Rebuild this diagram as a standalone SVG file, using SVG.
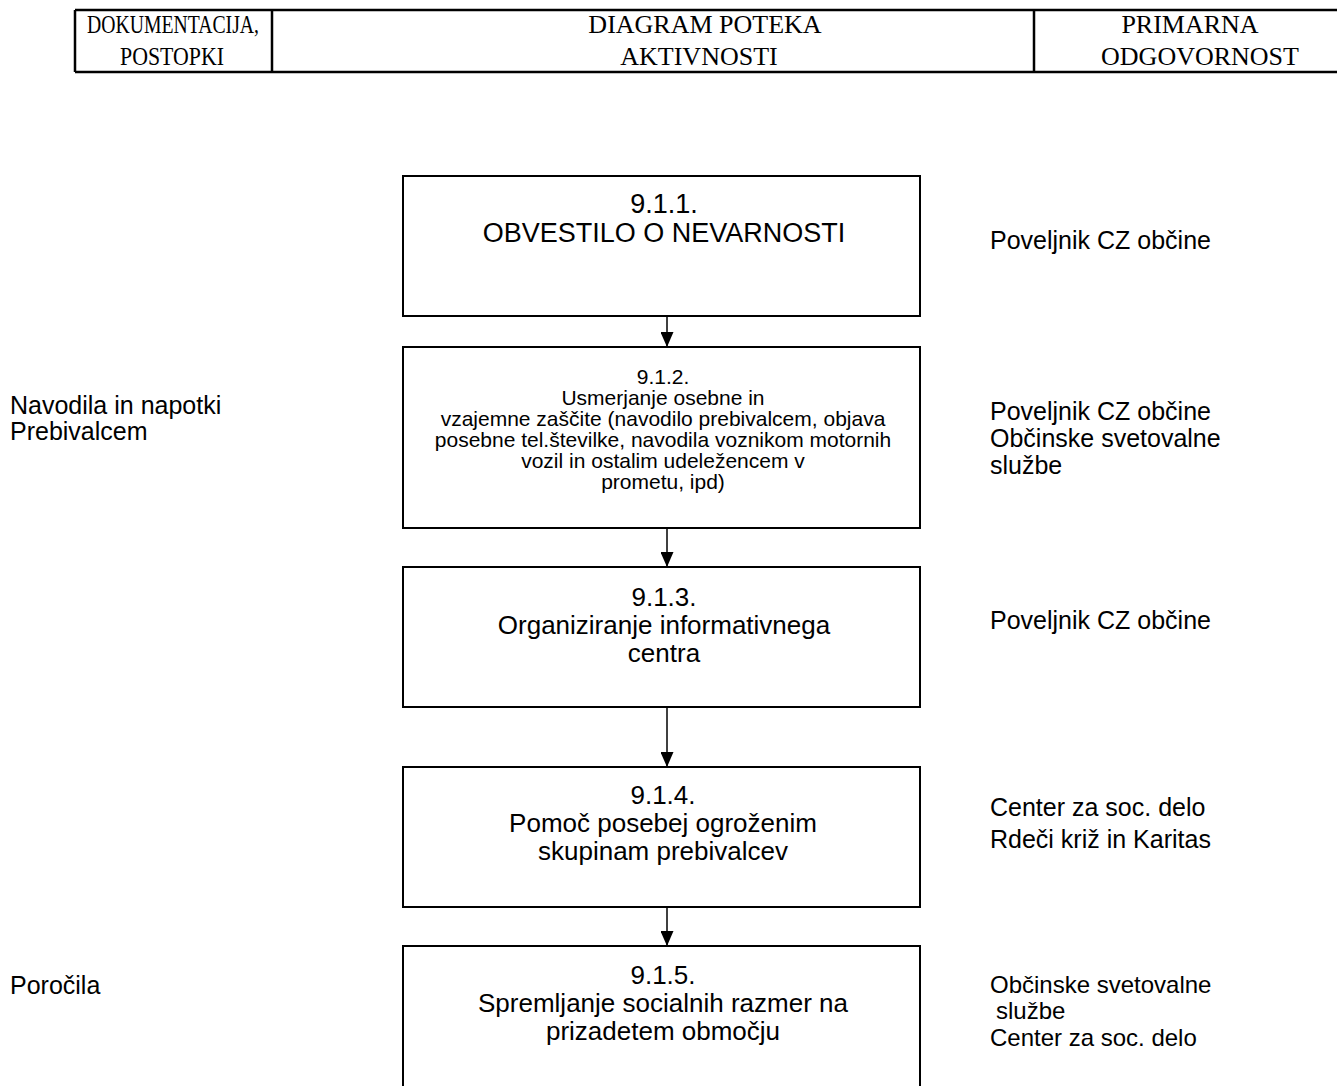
<svg xmlns="http://www.w3.org/2000/svg" width="1337" height="1086" viewBox="0 0 1337 1086">
<style>
.hdr{font-family:"Liberation Serif","Times New Roman",serif;font-size:26px;fill:#000;text-anchor:middle}
.box{fill:#fff;stroke:#000;stroke-width:2}
.bt{font-family:"Liberation Sans",Arial,sans-serif;font-size:26px;fill:#000;text-anchor:middle}
.bs{font-family:"Liberation Sans",Arial,sans-serif;font-size:21px;fill:#000;text-anchor:middle}
.lbl{font-family:"Liberation Sans",Arial,sans-serif;font-size:25px;fill:#000}
.lbs{font-family:"Liberation Sans",Arial,sans-serif;font-size:24px;fill:#000}
.conn{stroke:#000;stroke-width:1.5;fill:none}
</style>
<defs>
<marker id="ah" markerUnits="userSpaceOnUse" markerWidth="15" markerHeight="13" refX="15" refY="6.5" orient="auto" viewBox="0 0 15 13">
<path d="M0,0 L15,6.5 L0,13 Z" fill="#000"/>
</marker>
</defs>
<rect width="1337" height="1086" fill="#fff"/>
<g id="header">
<path d="M75,10 H1337 M75,72 H1337 M75,10 V72 M272,10 V72 M1034,10 V72" stroke="#000" stroke-width="2.5" fill="none"/>
<text class="hdr" x="173" y="33" textLength="172" lengthAdjust="spacingAndGlyphs">DOKUMENTACIJA,</text>
<text class="hdr" x="172" y="65" textLength="104" lengthAdjust="spacingAndGlyphs">POSTOPKI</text>
<text class="hdr" x="705" y="33">DIAGRAM POTEKA</text>
<text class="hdr" x="699" y="65">AKTIVNOSTI</text>
<text class="hdr" x="1190" y="33">PRIMARNA</text>
<text class="hdr" x="1200" y="65">ODGOVORNOST</text>
</g>
<g id="connectors">
<line class="conn" x1="667" y1="316" x2="667" y2="347" marker-end="url(#ah)"/>
<line class="conn" x1="667" y1="528" x2="667" y2="567" marker-end="url(#ah)"/>
<line class="conn" x1="667" y1="707" x2="667" y2="767" marker-end="url(#ah)"/>
<line class="conn" x1="667" y1="907" x2="667" y2="946" marker-end="url(#ah)"/>
</g>
<g id="n911">
<rect class="box" x="403" y="176" width="517" height="140"/>
<text class="bt" x="664" y="213" style="font-size:27px">9.1.1.</text>
<text class="bt" x="664" y="242" style="font-size:27px">OBVESTILO O NEVARNOSTI</text>
</g>
<g id="n912">
<rect class="box" x="403" y="347" width="517" height="181"/>
<text class="bs" x="663" y="384">9.1.2.</text>
<text class="bs" x="663" y="405">Usmerjanje osebne in</text>
<text class="bs" x="663" y="426">vzajemne zaščite (navodilo prebivalcem, objava</text>
<text class="bs" x="663" y="447">posebne tel.številke, navodila voznikom motornih</text>
<text class="bs" x="663" y="468">vozil in ostalim udeležencem v</text>
<text class="bs" x="663" y="489">prometu, ipd)</text>
</g>
<g id="n913">
<rect class="box" x="403" y="567" width="517" height="140"/>
<text class="bt" x="664" y="606">9.1.3.</text>
<text class="bt" x="664" y="634">Organiziranje informativnega</text>
<text class="bt" x="664" y="662">centra</text>
</g>
<g id="n914">
<rect class="box" x="403" y="767" width="517" height="140"/>
<text class="bt" x="663" y="804">9.1.4.</text>
<text class="bt" x="663" y="832">Pomoč posebej ogroženim</text>
<text class="bt" x="663" y="860">skupinam prebivalcev</text>
</g>
<g id="n915">
<rect class="box" x="403" y="946" width="517" height="150"/>
<text class="bt" x="663" y="984">9.1.5.</text>
<text class="bt" x="663" y="1012">Spremljanje socialnih razmer na</text>
<text class="bt" x="663" y="1040">prizadetem območju</text>
</g>
<g id="left-labels">
<text class="lbl" x="10" y="414">Navodila in napotki</text>
<text class="lbl" x="10" y="440">Prebivalcem</text>
<text class="lbl" x="10" y="994">Poročila</text>
</g>
<g id="right-labels">
<text class="lbl" x="990" y="249">Poveljnik CZ občine</text>
<text class="lbl" x="990" y="420">Poveljnik CZ občine</text>
<text class="lbl" x="990" y="447">Občinske svetovalne</text>
<text class="lbl" x="990" y="474">službe</text>
<text class="lbl" x="990" y="629">Poveljnik CZ občine</text>
<text class="lbl" x="990" y="816">Center za soc. delo</text>
<text class="lbl" x="990" y="848">Rdeči križ in Karitas</text>
<text class="lbs" x="990" y="993">Občinske svetovalne</text>
<text class="lbs" x="996" y="1019">službe</text>
<text class="lbs" x="990" y="1046">Center za soc. delo</text>
</g>
</svg>
